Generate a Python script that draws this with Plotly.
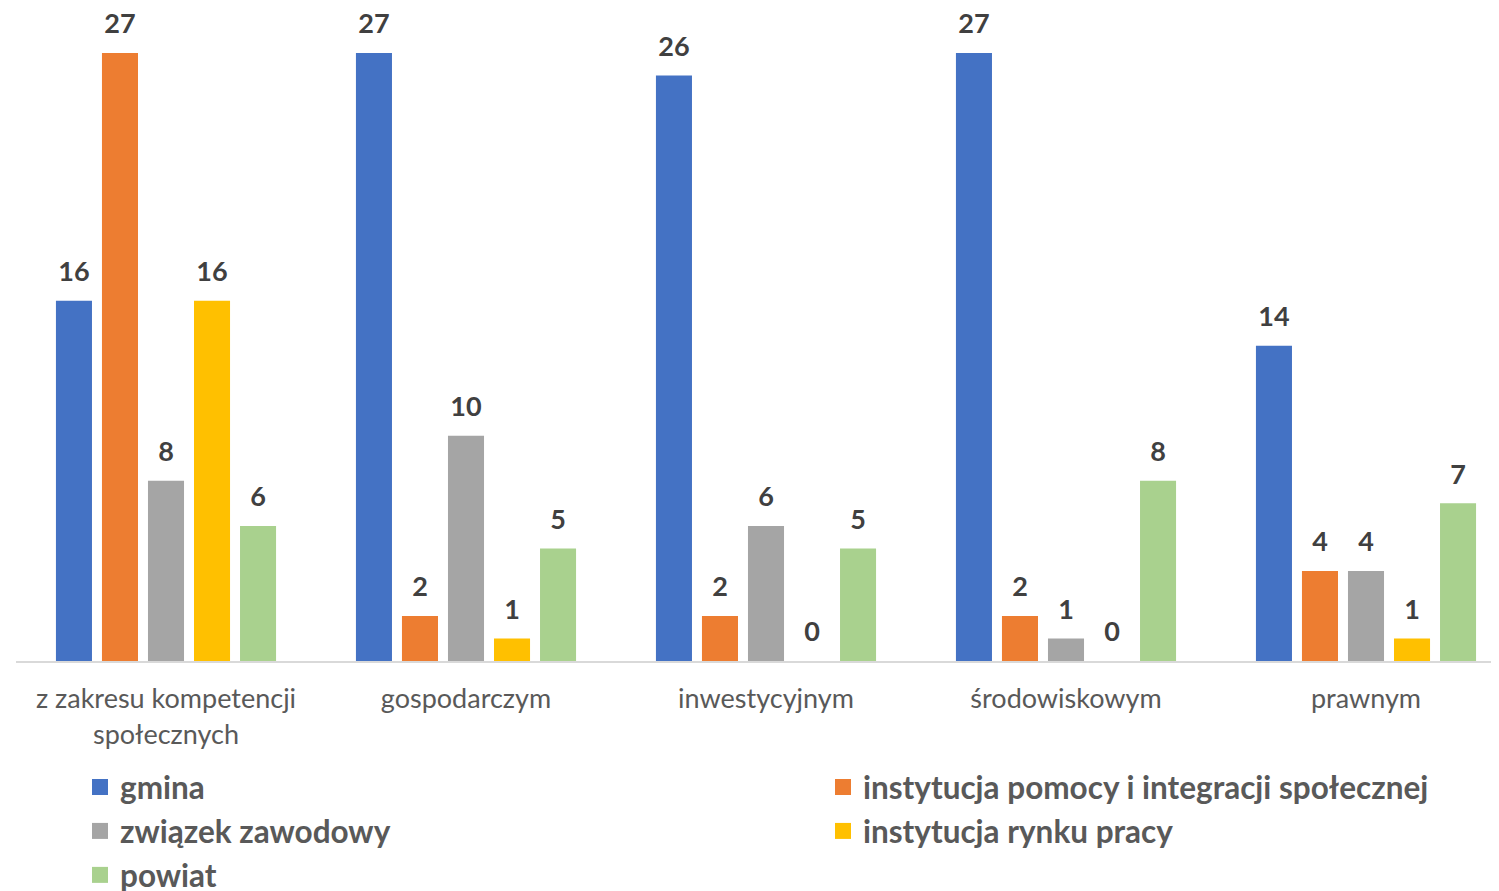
import plotly.graph_objects as go

categories = ["z zakresu kompetencji<br>społecznych", "gospodarczym", "inwestycyjnym", "środowiskowym", "prawnym"]
series_names = ["gmina", "instytucja pomocy i integracji społecznej", "związek zawodowy", "instytucja rynku pracy", "powiat"]
gmina = [16, 27, 26, 27, 14]
pomoc = [27, 2, 2, 2, 4]
zwiazek = [8, 10, 6, 1, 4]
rynek = [16, 1, 0, 0, 1]
powiat = [6, 5, 5, 8, 7]
colors = ["#4472C4", "#ED7D31", "#A5A5A5", "#FFC000", "#A9D18E"]
legend_slots = ["legend", "legend2", "legend", "legend2", "legend"]

values = [gmina, pomoc, zwiazek, rynek, powiat]
FONT = "Lato"
BARGAP = 0.233

fig = go.Figure()
for name, vals, col in zip(series_names, values, colors):
    fig.add_trace(go.Bar(
        x=categories, y=vals, name=name, marker_color=col, marker_line_width=0,
        showlegend=False, legendgroup=name, offsetgroup=name,
    ))
# data labels, grouped the same way as the bars
for name, vals in zip(series_names, values):
    fig.add_trace(go.Scatter(
        x=categories, y=vals, mode="markers+text", showlegend=False,
        marker=dict(size=19, color="rgba(0,0,0,0)"),
        text=[str(v) for v in vals], textposition="top center", cliponaxis=False,
        textfont=dict(family=FONT, size=27, color="#404040", weight="bold"),
        offsetgroup=name, hoverinfo="skip",
    ))
# legend entries (square swatches)
for name, col, lg in zip(series_names, colors, legend_slots):
    fig.add_trace(go.Scatter(
        x=[None], y=[None], mode="markers", name=name, legend=lg, legendgroup=name,
        marker=dict(symbol="square", size=16, color=col),
    ))

# page offset (body margin) is 8px; figure sized to fit the window
W, H = 1491, 883
L, T, B = 8, 45, 230
plot_w = W - L
plot_h = H - T - B
legend_font = dict(family=FONT, size=31.5, color="#595959", weight="bold")
leg_y = -(760 - 661) / plot_h
fig.update_layout(
    width=W, height=H,
    margin=dict(l=L, r=0, t=T, b=B, pad=0, autoexpand=False),
    barmode="group", bargap=BARGAP, bargroupgap=0.217,
    scattermode="group", scattergap=BARGAP,
    plot_bgcolor="white", paper_bgcolor="white",
    showlegend=True,
    legend=dict(
        orientation="v", x=(80 - 16) / plot_w, xanchor="left",
        y=leg_y, yanchor="top", itemsizing="trace",
        font=legend_font, tracegroupgap=0, bgcolor="rgba(0,0,0,0)",
    ),
    legend2=dict(
        orientation="v", x=(823 - 16) / plot_w, xanchor="left",
        y=leg_y, yanchor="top", itemsizing="trace",
        font=legend_font, tracegroupgap=0, bgcolor="rgba(0,0,0,0)",
    ),
    font=dict(family=FONT, color="#595959"),
)
fig.update_xaxes(
    range=[-0.5, -0.5 + plot_w / 300], showgrid=False, zeroline=False,
    showline=True, linecolor="#D9D9D9", linewidth=2,
    tickfont=dict(family=FONT, size=27, color="#595959"),
    ticks="", ticklabelstandoff=13, automargin=False,
)
fig.update_yaxes(range=[0, 27], visible=False, showgrid=False, zeroline=False, automargin=False)

fig.write_html("out.html")
